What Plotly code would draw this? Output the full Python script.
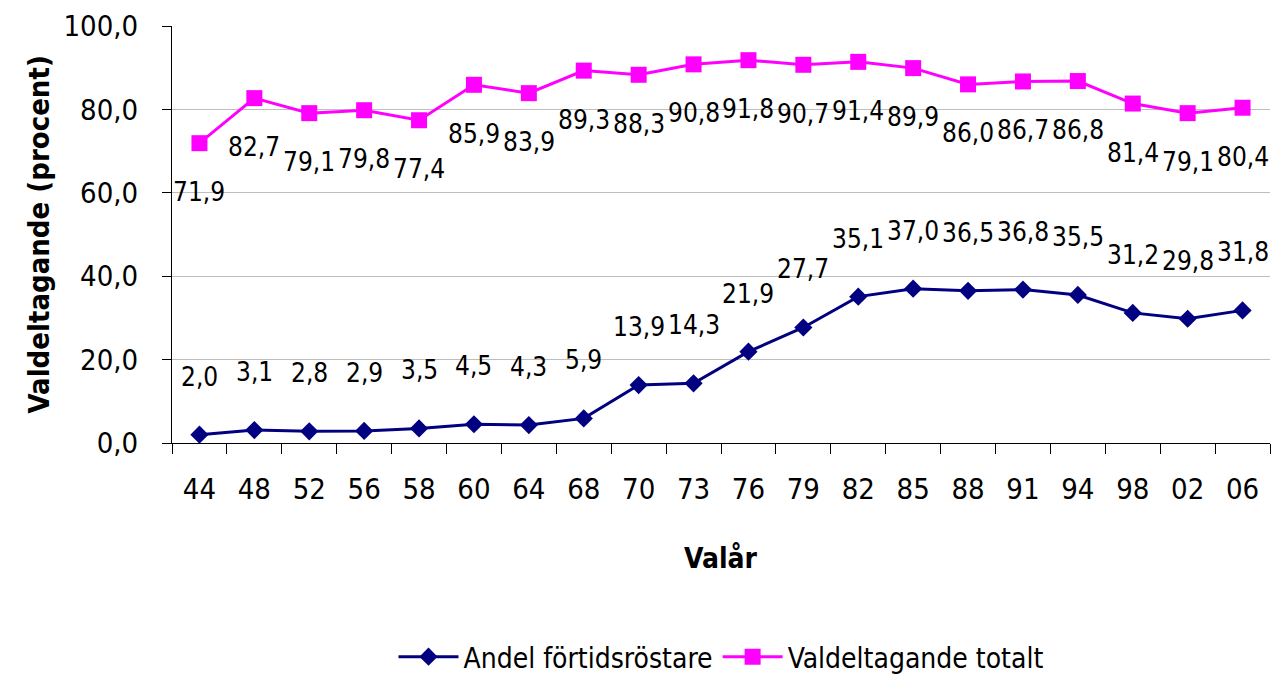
import plotly.graph_objects as go

years = ["44", "48", "52", "56", "58", "60", "64", "68", "70", "73",
         "76", "79", "82", "85", "88", "91", "94", "98", "02", "06"]
early_voters = [2.0, 3.1, 2.8, 2.9, 3.5, 4.5, 4.3, 5.9, 13.9, 14.3,
                21.9, 27.7, 35.1, 37.0, 36.5, 36.8, 35.5, 31.2, 29.8, 31.8]
turnout_total = [71.9, 82.7, 79.1, 79.8, 77.4, 85.9, 83.9, 89.3, 88.3, 90.8,
                 91.8, 90.7, 91.4, 89.9, 86.0, 86.7, 86.8, 81.4, 79.1, 80.4]
y_ticks = [0, 20, 40, 60, 80, 100]

NARROW = "DejaVu Sans Condensed, Liberation Sans Narrow, Arial Narrow, sans-serif"
BLUE = "#000080"
PINK = "#FF00FF"

def fmt(v):
    return f"{v:.1f}".replace(".", ",")

fig = go.Figure()
fig.add_trace(go.Scatter(
    x=years, y=early_voters, name="Andel förtidsröstare",
    mode="lines+markers",
    line=dict(color=BLUE, width=3),
    marker=dict(symbol="diamond", size=14, color=BLUE),
    cliponaxis=False,
))
fig.add_trace(go.Scatter(
    x=years, y=turnout_total, name="Valdeltagande totalt",
    mode="lines+markers",
    line=dict(color=PINK, width=3),
    marker=dict(symbol="square", size=16, color=PINK),
    cliponaxis=False,
))

annotations = []
for i, v in enumerate(early_voters):
    annotations.append(dict(x=i, y=v, text=fmt(v), showarrow=False,
                            yshift=58, yanchor="middle", xanchor="center",
                            font=dict(family=NARROW, size=26, color="#000")))
for i, v in enumerate(turnout_total):
    annotations.append(dict(x=i, y=v, text=fmt(v), showarrow=False,
                            yshift=-49, yanchor="middle", xanchor="center",
                            font=dict(family=NARROW, size=26, color="#000")))

annotations.append(dict(x=-0.122, y=0.5, xref="paper", yref="paper",
                        text="<b>Valdeltagande (procent)</b>", textangle=-90,
                        showarrow=False, xanchor="center", yanchor="middle",
                        font=dict(family=NARROW, size=29, color="#000")))
annotations.append(dict(x=0.5, y=-0.276, xref="paper", yref="paper",
                        text="<b>Valår</b>",
                        showarrow=False, xanchor="center", yanchor="middle",
                        font=dict(family=NARROW, size=28, color="#000")))

fig.update_layout(
    width=1273, height=674,
    margin=dict(l=172, r=3, t=26, b=231, autoexpand=False),
    paper_bgcolor="white", plot_bgcolor="white",
    showlegend=True,
    legend=dict(orientation="h", x=0.5, xanchor="center",
                yref="container", y=1 - 657 / 674, yanchor="middle",
                font=dict(family=NARROW, size=28, color="#000"),
                itemwidth=60, tracegroupgap=0),
    annotations=annotations,
)
fig.update_xaxes(
    type="category", range=[-0.5, len(years) - 0.5],
    showgrid=False, showline=True, linecolor="#000", linewidth=1,
    ticks="outside", tickson="boundaries", ticklen=10, tickcolor="#000",
    tickfont=dict(family=NARROW, size=29, color="#000"), tickangle=0,
    ticklabelstandoff=20, zeroline=False, automargin=False,
)
fig.update_yaxes(
    range=[0, 100], tickvals=y_ticks, ticktext=[fmt(t) for t in y_ticks],
    showgrid=True, gridcolor="#BEBEBE", gridwidth=1,
    showline=True, linecolor="#000", linewidth=1,
    ticks="outside", ticklen=9, tickcolor="#000",
    tickfont=dict(family=NARROW, size=29, color="#000"),
    ticklabelstandoff=18, zeroline=False, automargin=False,
)

fig.write_html("out.html", config={"displayModeBar": False},
               post_script="document.body.style.margin='0';document.body.style.overflow='hidden';")
